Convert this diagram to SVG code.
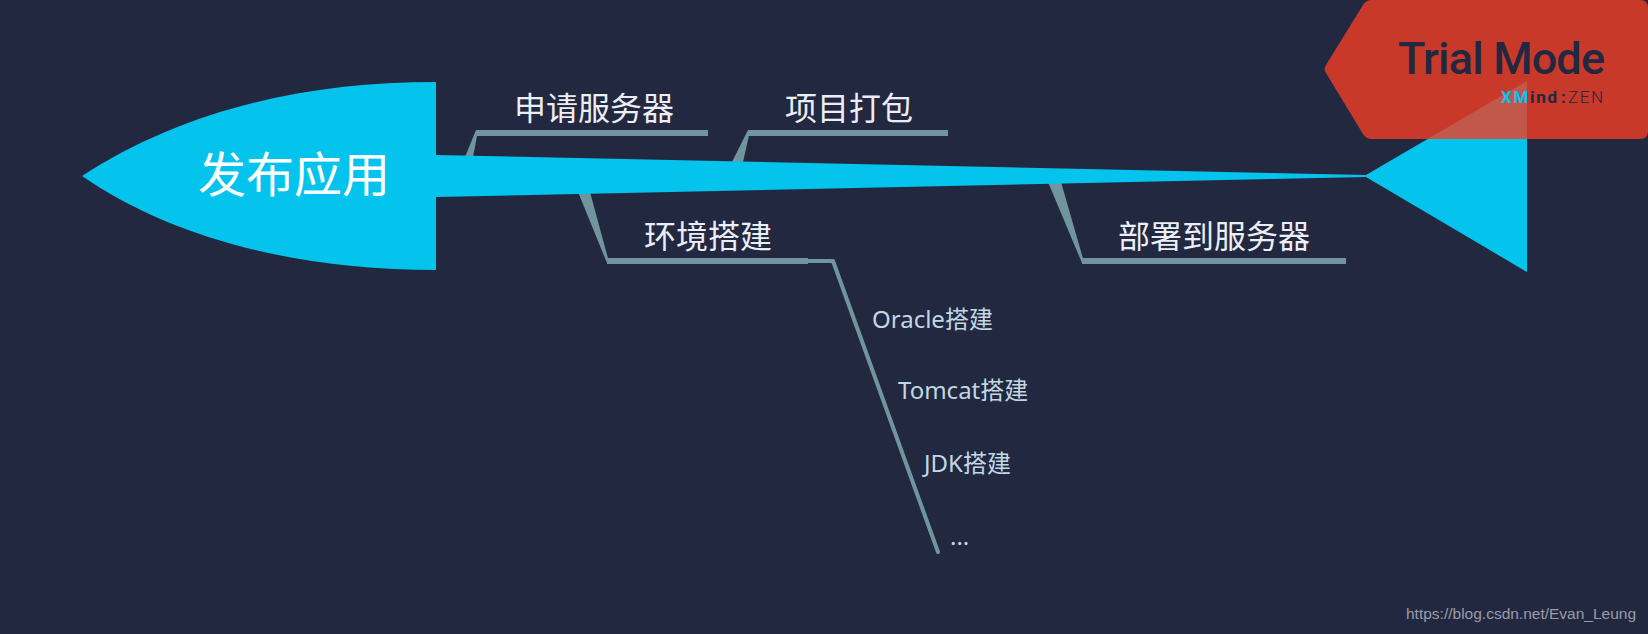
<svg xmlns="http://www.w3.org/2000/svg" width="1648" height="634" viewBox="0 0 1648 634">
<style>
text{font-family:"Noto Sans","Noto Sans CJK SC",sans-serif}
.cy{fill:#04c4ee}
.bar{fill:#71959f}
.t1{font-size:32px;fill:#eceef5}
.t2{font-size:24px;fill:#c3d7e2}
.line{fill:none;stroke:#71959f;stroke-width:4}
.brand{font-family:Roboto,"Noto Sans",sans-serif;fill:#222840}
</style>
<rect width="1648" height="634" fill="#222840"/>
<g id="connectors">
<path class="bar" d="M465,157L473,157L478,131L476,130Z"/>
<path class="bar" d="M732,162L743,162L750,131L748,130Z"/>
<path class="bar" d="M578,192L590,192L609,262L607,263Z"/>
<path class="bar" d="M1048,182L1061,182L1084,262L1082,263Z"/>
<rect class="bar" x="476" y="130" width="232" height="6"/>
<rect class="bar" x="748" y="130" width="200" height="6"/>
<rect class="bar" x="607" y="258" width="201" height="6"/>
<rect class="bar" x="1082" y="258" width="264" height="6"/>
<path class="line" d="M808,261H833L938,552" stroke-linecap="round" stroke-linejoin="round"/>
</g>
<g id="fish-body">
<path class="cy" d="M82,176C180,112 300,82 436,82V155L1366,175L1527,81V272L1366,177L436,197V270C300,270 175,240 82,176Z"/>
</g>
<g id="root"><text x="198" y="192" font-size="48" fill="#fff">发布应用</text></g>
<g id="n1"><text class="t1" x="514" y="120">申请服务器</text></g>
<g id="n2"><text class="t1" x="785" y="120">项目打包</text></g>
<g id="n3"><text class="t1" x="644" y="248">环境搭建</text></g>
<g id="n4"><text class="t1" x="1118" y="248">部署到服务器</text></g>
<g id="n3-1"><text class="t2" x="872" y="328">Oracle搭建</text></g>
<g id="n3-2"><text class="t2" x="898" y="399">Tomcat搭建</text></g>
<g id="n3-3"><text class="t2" x="924" y="472">JDK搭建</text></g>
<g id="n3-4"><text class="t2" x="950" y="545">...</text></g>
<g id="trial">
<path d="M1372,0H1640Q1648,0 1648,8V131Q1648,139 1640,139H1372Q1366,139 1363,134L1326,73Q1323,69 1326,65L1363,5Q1366,0 1372,0Z" fill="#ef3d25" fill-opacity=".81"/>
<text class="brand" x="1398" y="74" font-size="45" font-weight="500" textLength="207">Trial Mode</text>
<text class="brand" x="1501" y="103" font-size="17" font-weight="700" textLength="56"><tspan fill="#04c4ee">XM</tspan>ind</text>
<text class="brand" x="1561" y="103" font-size="17" font-weight="700">:</text>
<text class="brand" x="1568" y="103" font-size="17" font-weight="300" textLength="35">ZEN</text>
</g>
<g id="watermark"><text x="1406" y="619" font-size="15.5" fill="#9a9ca8" style="font-family:'Liberation Sans',Arial,sans-serif">https://blog.csdn.net/Evan_Leung</text></g>
</svg>
